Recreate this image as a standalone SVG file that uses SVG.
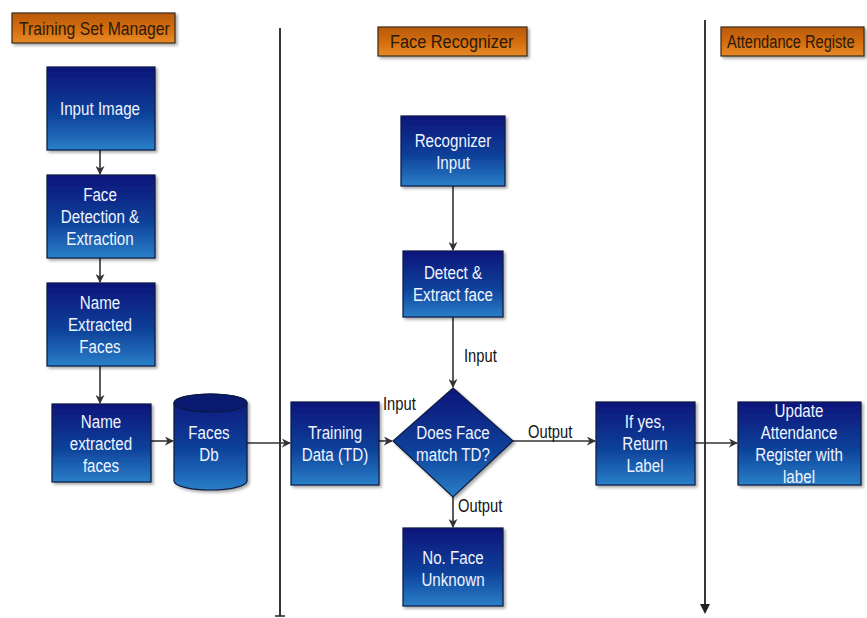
<svg xmlns="http://www.w3.org/2000/svg" width="867" height="618" viewBox="0 0 867 618">
<defs>
<linearGradient id="blue" x1="0" y1="0" x2="0" y2="1">
<stop offset="0" stop-color="#08157a"/>
<stop offset="0.55" stop-color="#0c3f98"/>
<stop offset="1" stop-color="#2a7fc8"/>
</linearGradient>
<linearGradient id="orange" x1="0" y1="0" x2="0" y2="1">
<stop offset="0" stop-color="#b85a08"/>
<stop offset="0.5" stop-color="#d46c0c"/>
<stop offset="1" stop-color="#e88a28"/>
</linearGradient>
<filter id="sh" x="-10%" y="-10%" width="130%" height="130%">
<feDropShadow dx="2" dy="2" stdDeviation="1.5" flood-color="#000" flood-opacity="0.35"/>
</filter>
<marker id="arr" viewBox="0 0 10 10" refX="9" refY="5" markerWidth="9" markerHeight="9" markerUnits="userSpaceOnUse" orient="auto">
<path d="M0,0 L10,5 L0,10 L3,5 Z" fill="#333"/>
</marker>
</defs>
<style>
.box{fill:url(#blue);stroke:#0a1a40;stroke-width:1.2;filter:url(#sh)}
.hdr{fill:url(#orange);stroke:#3a2a1a;stroke-width:1.2;filter:url(#sh)}
.t{font-family:"Liberation Sans",Arial,sans-serif;font-size:18.5px;fill:#f0f4ff;text-anchor:middle}
.h{font-family:"Liberation Sans",Arial,sans-serif;font-size:19px;fill:#2a1a0a}
.lbl{font-family:"Liberation Sans",Arial,sans-serif;font-size:18px;fill:#111}
.c{stroke:#333;stroke-width:1.6;fill:none;marker-end:url(#arr)}
.lane{stroke:#222;stroke-width:1.8;fill:none}
</style>
<rect width="867" height="618" fill="#fff"/>

<g id="headers">
<g id="hdr-tsm"><rect class="hdr" x="12" y="13" width="163" height="30"/><text class="h" transform="matrix(0.83,0,0,1,19,35)">Training Set Manager</text></g>
<g id="hdr-fr"><rect class="hdr" x="378" y="27" width="149" height="29"/><text class="h" transform="matrix(0.86,0,0,1,390,48)">Face Recognizer</text></g>
<g id="hdr-ar"><rect class="hdr" x="721" y="27" width="143" height="29"/><text class="h" transform="matrix(0.77,0,0,1,727,48)">Attendance Registe</text></g>
</g>

<g id="lanes">
<line class="lane" x1="280" y1="28" x2="280" y2="616"/>
<line x1="275" y1="616" x2="285" y2="616" stroke="#222" stroke-width="1.5"/>
<line class="lane" x1="705" y1="20" x2="705" y2="606"/>
<path d="M700,604 L705,614 L710,604 Z" fill="#222"/>
</g>

<g id="connectors">
<line class="c" x1="100" y1="150" x2="100" y2="174"/>
<line class="c" x1="100" y1="258" x2="100" y2="282"/>
<line class="c" x1="100" y1="366" x2="100" y2="403"/>
<line class="c" x1="151" y1="441" x2="173" y2="441"/>
<line class="c" x1="247" y1="443" x2="290" y2="443"/>
<line class="c" x1="379" y1="441" x2="392" y2="441"/>
<line class="c" x1="453" y1="186" x2="453" y2="250"/>
<line class="c" x1="453" y1="317" x2="453" y2="387"/>
<line class="c" x1="513" y1="441" x2="595" y2="441"/>
<line class="c" x1="453" y1="497" x2="453" y2="527"/>
<line class="c" x1="695" y1="443" x2="737" y2="443"/>
<text class="lbl" transform="matrix(0.82,0,0,1,464,362)">Input</text>
<text class="lbl" transform="matrix(0.82,0,0,1,383,410)">Input</text>
<text class="lbl" transform="matrix(0.82,0,0,1,528,438)">Output</text>
<text class="lbl" transform="matrix(0.82,0,0,1,458,512)">Output</text>
</g>

<g id="input-image"><rect class="box" x="47" y="67" width="108" height="83"/><text class="t" transform="matrix(0.82,0,0,1,100,115)">Input Image</text></g>
<g id="face-detection"><rect class="box" x="47" y="175" width="108" height="83"/><text class="t" transform="matrix(0.82,0,0,1,100,201)">Face</text><text class="t" transform="matrix(0.82,0,0,1,100,223)">Detection &amp;</text><text class="t" transform="matrix(0.82,0,0,1,100,245)">Extraction</text></g>
<g id="name-extracted-1"><rect class="box" x="47" y="283" width="108" height="83"/><text class="t" transform="matrix(0.82,0,0,1,100,309)">Name</text><text class="t" transform="matrix(0.82,0,0,1,100,331)">Extracted</text><text class="t" transform="matrix(0.82,0,0,1,100,353)">Faces</text></g>
<g id="name-extracted-2"><rect class="box" x="52" y="404" width="99" height="78"/><text class="t" transform="matrix(0.82,0,0,1,101,428)">Name</text><text class="t" transform="matrix(0.82,0,0,1,101,450)">extracted</text><text class="t" transform="matrix(0.82,0,0,1,101,472)">faces</text></g>
<g id="faces-db">
<path class="box" d="M174,403 L174,481 A36.5,9 0 0 0 247,481 L247,403 A36.5,9 0 0 0 174,403 Z"/>
<ellipse cx="210.5" cy="403" rx="36.5" ry="9" fill="#0a1a70" stroke="#0a1a40" stroke-width="1.2"/>
<text class="t" transform="matrix(0.82,0,0,1,209,439)">Faces</text><text class="t" transform="matrix(0.82,0,0,1,209,461)">Db</text>
</g>
<g id="training-data"><rect class="box" x="291" y="402" width="88" height="83"/><text class="t" transform="matrix(0.82,0,0,1,335,439)">Training</text><text class="t" transform="matrix(0.82,0,0,1,335,461)">Data (TD)</text></g>
<g id="recognizer-input"><rect class="box" x="401" y="116" width="104" height="70"/><text class="t" transform="matrix(0.82,0,0,1,453,147)">Recognizer</text><text class="t" transform="matrix(0.82,0,0,1,453,169)">Input</text></g>
<g id="detect-extract"><rect class="box" x="403" y="251" width="100" height="66"/><text class="t" transform="matrix(0.82,0,0,1,453,279)">Detect &amp;</text><text class="t" transform="matrix(0.82,0,0,1,453,301)">Extract face</text></g>
<g id="decision"><polygon class="box" points="453,388 513,441 453,497 393,441"/><text class="t" transform="matrix(0.82,0,0,1,453,439)">Does Face</text><text class="t" transform="matrix(0.82,0,0,1,453,461)">match TD?</text></g>
<g id="no-face"><rect class="box" x="403" y="528" width="100" height="78"/><text class="t" transform="matrix(0.82,0,0,1,453,564)">No. Face</text><text class="t" transform="matrix(0.82,0,0,1,453,586)">Unknown</text></g>
<g id="if-yes"><rect class="box" x="596" y="402" width="99" height="83"/><text class="t" transform="matrix(0.82,0,0,1,645,428)">If yes,</text><text class="t" transform="matrix(0.82,0,0,1,645,450)">Return</text><text class="t" transform="matrix(0.82,0,0,1,645,472)">Label</text></g>
<g id="update"><rect class="box" x="738" y="402" width="123" height="83"/><text class="t" transform="matrix(0.82,0,0,1,799,417)">Update</text><text class="t" transform="matrix(0.82,0,0,1,799,439)">Attendance</text><text class="t" transform="matrix(0.82,0,0,1,799,461)">Register with</text><text class="t" transform="matrix(0.82,0,0,1,799,483)">label</text></g>
</svg>
